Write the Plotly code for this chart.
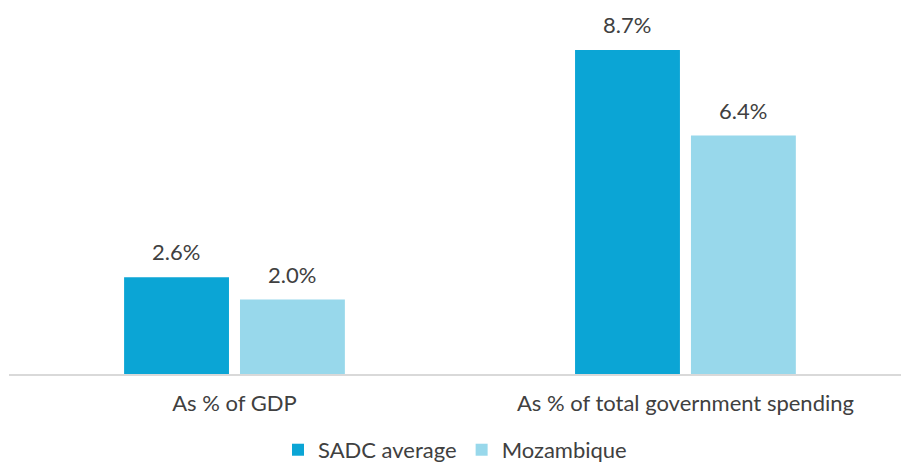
import plotly.graph_objects as go

categories = ["As % of GDP", "As % of total government spending"]
sadc_values = [2.6, 8.7]
moz_values = [2.0, 6.4]
series_names = ["SADC average", "Mozambique"]
series_colors = ["#0ba5d5", "#98d8eb"]

text_color = "#404040"
font_family = "Lato, 'Open Sans', sans-serif"

fig = go.Figure()
for name, vals, col in zip(series_names, [sadc_values, moz_values], series_colors):
    fig.add_trace(go.Bar(
        x=categories, y=vals, name=name,
        marker=dict(color=col, line=dict(width=0)),
        hovertemplate="%{x}: %{y:.1f}%<extra>" + name + "</extra>",
    ))

# Data labels above bars
for shift, vals in zip([-58, 58], [sadc_values, moz_values]):
    for cat, v in zip(categories, vals):
        fig.add_annotation(
            x=cat, y=v, text=f"{v:.1f}%", showarrow=False,
            xshift=shift, yshift=10, yanchor="bottom",
            font=dict(size=22, color=text_color, family=font_family),
        )

fig.update_layout(
    width=901, height=466,
    margin=dict(l=9, r=0, t=0, b=92, autoexpand=False),
    paper_bgcolor="white", plot_bgcolor="white",
    barmode="group", bargap=0.486, bargroupgap=0.095,
    font=dict(family=font_family, color=text_color, size=22),
    legend=dict(orientation="h", x=0.5, xanchor="center", y=-0.203, yanchor="middle",
                font=dict(size=22, color=text_color), itemwidth=30,
                traceorder="normal"),
    xaxis=dict(range=[-0.5, 1.478], showline=True, linecolor="#d9d9d9", linewidth=2,
               ticks="", ticklabelstandoff=9, tickfont=dict(size=22, color=text_color),
               showgrid=False, zeroline=False),
    yaxis=dict(range=[0, 10.04], visible=False, showgrid=False, zeroline=False),
)

fig.write_html("out.html", config={"displayModeBar": False},
               post_script="document.body.style.margin='0';")
